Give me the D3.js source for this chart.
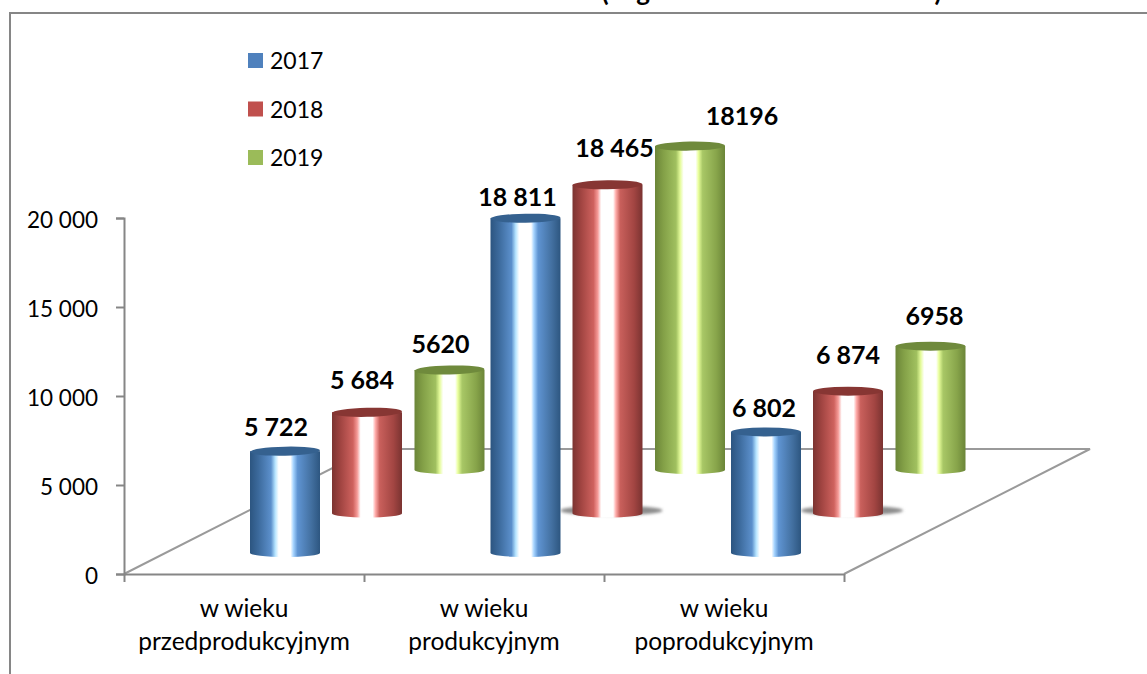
<!DOCTYPE html>
<html><head><meta charset="utf-8">
<script src="https://cdn.jsdelivr.net/npm/d3@7"></script>
<style>html,body{margin:0;background:#fff}svg{display:block;font-family:Lato,"Open Sans",sans-serif}</style>
</head><body><div id="c"></div>
<script>
const categories = [["w wieku","przedprodukcyjnym"],["w wieku","produkcyjnym"],["w wieku","poprodukcyjnym"]];
const seriesNames = ["2017","2018","2019"];
const values2017 = [5722,18811,6802];
const values2018 = [5684,18465,6874];
const values2019 = [5620,18196,6958];
const labels2017 = ["5 722","18 811","6 802"];
const labels2018 = ["5 684","18 465","6 874"];
const labels2019 = ["5620","18196","6958"];
const axisTicks = [0,5000,10000,15000,20000];
const titleFragments = ["(","g",")"];

// layout and style
const W=1147,H=674;
const colors={
 "2017":{top:"#35618f",stops:[[0,"#2c5580"],[.12,"#3c6a9c"],[.3,"#5c90cc"],[.36,"#b5e4ff"],[.41,"#fff"],[.58,"#fff"],[.62,"#a6d4ff"],[.68,"#5f94d2"],[.88,"#426f9f"],[1,"#2d5680"]],sw:"#4f81bd"},
 "2018":{top:"#873633",stops:[[0,"#7c3431"],[.12,"#a04441"],[.3,"#cf625e"],[.36,"#f59a97"],[.41,"#fff"],[.58,"#fff"],[.62,"#ffacaa"],[.68,"#c9605c"],[.88,"#a24542"],[1,"#7a3331"]],sw:"#c0504d"},
 "2019":{top:"#6f8a3c",stops:[[0,"#6b8538"],[.12,"#83a047"],[.3,"#a0c05f"],[.36,"#e4fb9a"],[.41,"#fff"],[.58,"#fff"],[.62,"#e9ff9c"],[.68,"#a8c766"],[.88,"#87a44a"],[1,"#6b8538"]],sw:"#9bbb59"}
};
const barW=70, ryTop=4.5, ryBottom=4;
const tilt=[-1.3,-0.8,0];
// label nudges, indexed [series][category]
const labelShift=[[[-9,-15],[-8,-12],[-2,-15]],[[-5,-23],[7,-28],[0,-27]],[[-9,-17],[52,-21],[4,-21]]];

const svg=d3.select("#c").append("svg").attr("width",W).attr("height",H);
const defs=svg.append("defs");
seriesNames.forEach(s=>{
  const g=defs.append("linearGradient").attr("id","g"+s);
  g.selectAll("stop").data(colors[s].stops).join("stop").attr("offset",d=>d[0]).attr("stop-color",d=>d[1]);
});
defs.append("filter").attr("id","blur").attr("x","-20%").attr("width","140%").attr("y","-100%").attr("height","300%")
  .append("feGaussianBlur").attr("stdDeviation",1.6);

// clipped title fragments
const titleX=d3.scaleOrdinal().domain(titleFragments).range([605,643,938]);
svg.selectAll("text.t").data(titleFragments).join("text").attr("class","t")
  .attr("x",d=>titleX(d)).attr("y",1).attr("text-anchor","middle")
  .attr("font-size",26).attr("font-weight",700).text(d=>d);

// frame
svg.append("path").attr("d",`M10,${H}V13H${W}`).attr("fill","none").attr("stroke","#868686").attr("stroke-width",2);

// scales
const y=d3.scaleLinear().domain([0,20000]).range([574,218]);
const xCat=d3.scaleBand().domain(d3.range(3)).range([250,971.5]);
const xSer=d3.scaleOrdinal().domain(seriesNames).range([0,82,164.5]);
const depth=d3.scaleOrdinal().domain(seriesNames).range([-21,-60.5,-104]);
const xAxisScale=d3.scaleLinear().domain([0,3]).range([124,844]);
const axisCol="#868686";

// floor
const floor=[[124,574],[370,449],[1090,449],[844,574]];
svg.append("path").attr("d",d3.line()(floor)).attr("fill","none").attr("stroke","#9a9a9a").attr("stroke-width",2);

// axes
const gy=svg.append("g").attr("transform","translate(124,0)")
  .call(d3.axisLeft(y).tickValues(axisTicks).tickSize(8).tickPadding(18)
    .tickFormat(d=>d3.format(",")(d).replace(",", " ")));
const gx=svg.append("g").attr("transform","translate(0,574)")
  .call(d3.axisBottom(xAxisScale).tickValues([0,1,2,3]).tickSize(8).tickSizeOuter(0).tickFormat(""));
[gy,gx].forEach(g=>{g.selectAll("path,line").attr("stroke",axisCol).attr("stroke-width",2);
  g.attr("font-family",null).attr("font-size",null);});
gy.selectAll("text").attr("font-size",22.5).attr("fill","#000").attr("dy","1.2");
gy.selectAll("text").attr("y",8);

// category labels
const catG=svg.selectAll("g.cat").data(categories).join("g").attr("class","cat");
catG.selectAll("text").data((d,i)=>d.map(t=>({t,i}))).join("text")
  .attr("x",d=>xAxisScale(d.i+.5)).attr("y",(d,j)=>617+j*32.5)
  .attr("text-anchor","middle").attr("font-size",24.5).text(d=>d.t);

// bars
const seriesVals={"2017":values2017,"2018":values2018,"2019":values2019};
const seriesLab={"2017":labels2017,"2018":labels2018,"2019":labels2019};
const bars=seriesNames.flatMap((s,si)=>seriesVals[s].map((v,ci)=>({s,si,ci,v,label:seriesLab[s][ci]})));
const shape=d=>{
  const x=xCat(d.ci)+xSer(d.s), base=y(0)+depth(d.s), top=y(d.v)+depth(d.s);
  return {x,base,top,cx:x+barW/2};
};
bars.sort((a,b)=>b.si-a.si);
// floor shadows
svg.selectAll("ellipse.sh").data(bars.filter(d=>d.si===1&&d.ci>0)).join("ellipse").attr("class","sh")
  .attr("cx",d=>shape(d).cx+4).attr("cy",d=>shape(d).base-3).attr("rx",51).attr("ry",5)
  .attr("fill","#8c8c8c").attr("filter","url(#blur)");
const gBar=svg.selectAll("g.bar").data(bars).join("g").attr("class","bar");
gBar.append("path").attr("fill",d=>`url(#g${d.s})`).attr("d",d=>{
  const p=shape(d);
  return `M${p.x},${p.top}V${p.base}A${barW/2},${ryBottom} 0 0 0 ${p.x+barW},${p.base}V${p.top}Z`;
});
gBar.append("ellipse").attr("fill",d=>colors[d.s].top)
  .attr("cx",d=>shape(d).cx).attr("cy",d=>shape(d).top).attr("rx",barW/2).attr("ry",ryTop)
  .attr("transform",d=>`rotate(${tilt[d.ci]} ${shape(d).cx} ${shape(d).top})`);

// data labels
svg.selectAll("text.lab").data(bars).join("text").attr("class","lab")
  .attr("x",d=>shape(d).cx+labelShift[d.si][d.ci][0])
  .attr("y",d=>shape(d).top+labelShift[d.si][d.ci][1])
  .attr("text-anchor","middle").attr("font-size",25).attr("font-weight",700).text(d=>d.label);

// legend
const leg=svg.selectAll("g.leg").data(seriesNames).join("g").attr("class","leg")
  .attr("transform",(d,i)=>`translate(248,${53+i*48.5})`);
leg.append("rect").attr("width",15).attr("height",15).attr("fill",d=>colors[d].sw);
leg.append("text").attr("x",22).attr("y",16).attr("font-size",23).text(d=>d);
</script></body></html>
